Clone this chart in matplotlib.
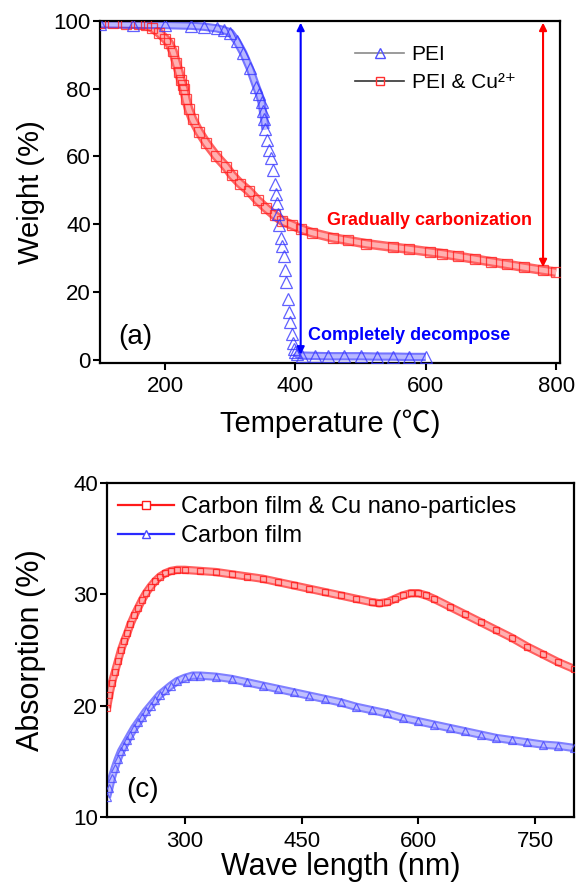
import matplotlib
matplotlib.use("Agg")
import numpy as np
from matplotlib import pyplot as plt
from matplotlib.lines import Line2D

plt.rcParams['font.family'] = ['Liberation Sans', 'Noto Sans CJK SC', 'DejaVu Sans']

# (a) TGA data
pei_t = [100, 150, 200, 240, 260, 280, 290, 300, 310, 320, 330, 340, 344, 348, 350, 352, 354, 357,
         360, 363, 365, 368, 370, 372, 373, 375, 378, 380, 382, 384, 386, 388, 390, 392, 394, 396,
         398, 400, 403, 410, 430, 450, 475, 500, 525, 550, 575, 600]
pei_w = [99.0, 98.9, 98.8, 98.6, 98.3, 97.8, 97.3, 96.6, 94.0, 90.5, 86.0, 80.5, 78.5, 76.0, 73.5, 71.0, 68.0, 65.0,
         62.0, 59.4, 56.0, 52.0, 49.0, 46.2, 43.0, 39.8, 36.0, 33.5, 30.5, 26.6, 22.8, 18.0, 14.0, 11.0, 7.6, 5.0,
         3.2, 2.2, 1.6, 1.2, 1.1, 1.0, 1.0, 1.0, 0.9, 0.9, 0.8, 0.8]

cu_t = [100, 120, 140, 160, 170, 180, 190, 200, 206, 212, 217, 221, 224, 227, 229, 232, 236,
        242, 252, 263, 278, 293, 303, 315, 329, 342, 355, 368, 380, 395, 408, 425, 457, 480,
        509, 550, 575, 606, 625, 650, 675, 700, 725, 750, 780, 800]
cu_w = [99.3, 99.3, 99.2, 99.0, 98.8, 98.0, 96.6, 94.8, 93.5, 91.0, 87.7, 85.0, 82.7, 81.0, 79.8, 76.9, 74.0,
        71.0, 67.3, 64.0, 60.2, 57.0, 54.4, 52.0, 49.7, 47.0, 44.7, 42.6, 40.9, 39.7, 38.6, 37.5, 36.0, 35.2,
        34.2, 33.2, 32.6, 31.8, 31.3, 30.5, 29.7, 28.9, 28.1, 27.3, 26.4, 25.8]

# (c) absorption data
wl_red = [200, 203, 206, 210, 214, 218, 222, 226, 230, 235, 240, 245, 250, 256, 262, 268, 275, 282,
          290, 300, 320, 340, 360, 380, 400, 420, 440, 460, 480, 500, 520, 540, 550, 560, 570, 580,
          590, 600, 610, 620, 640, 660, 680, 700, 720, 740, 760, 780, 800]
abs_red = [19.8, 21.0, 22.0, 23.0, 24.0, 25.0, 25.8, 26.5, 27.3, 28.1, 28.8, 29.5, 30.1, 30.7, 31.2, 31.6, 31.9, 32.1,
           32.2, 32.2, 32.1, 32.0, 31.8, 31.6, 31.4, 31.1, 30.8, 30.5, 30.2, 29.9, 29.6, 29.3, 29.2, 29.3, 29.6, 29.9,
           30.1, 30.1, 29.9, 29.6, 28.9, 28.2, 27.5, 26.8, 26.1, 25.3, 24.6, 23.9, 23.3]

wl_blue = [200, 203, 206, 210, 214, 218, 222, 226, 230, 235, 240, 245, 250, 256, 262, 268, 275, 282,
           290, 300, 310, 320, 340, 360, 380, 400, 420, 440, 460, 480, 500, 520, 540, 560, 580, 600,
           620, 640, 660, 680, 700, 720, 740, 760, 780, 800]
abs_blue = [11.8, 12.6, 13.5, 14.4, 15.2, 15.9, 16.4, 16.9, 17.4, 18.0, 18.5, 19.0, 19.5, 20.0, 20.5, 21.0, 21.4, 21.8,
            22.2, 22.5, 22.7, 22.7, 22.6, 22.4, 22.1, 21.8, 21.5, 21.2, 20.9, 20.6, 20.3, 19.9, 19.6, 19.3, 18.9, 18.6,
            18.3, 18.0, 17.7, 17.4, 17.1, 16.9, 16.7, 16.5, 16.4, 16.2]


def band(ax, x, y, color, light, lw):
    # dense symbol band like the Origin plot: outline + pale inside
    ax.plot(x, y, color=color, lw=lw, alpha=0.7, solid_capstyle='butt', zorder=2)
    ax.plot(x, y, color=light, lw=lw * 0.5, solid_capstyle='butt', zorder=2)


def symbols(ax, x, y, color, marker, ms):
    ax.plot(x, y, ls='none', marker=marker, ms=ms, mfc='none', mec=color, mew=0.9, alpha=0.8, zorder=3)


def style_axes(ax):
    for s in ax.spines.values():
        s.set_linewidth(1.6)
    ax.tick_params(top=False, right=False, direction='out', length=5, width=1.5, labelsize=16)
    ax.tick_params(axis='x', pad=4)
    ax.tick_params(axis='y', pad=1.5)


fig = plt.figure(figsize=(5.76, 8.9), dpi=100)

# ---- (a) ----
ax1 = fig.add_axes([0.1736, 0.5921, 0.7986, 0.3843])
band(ax1, cu_t, cu_w, '#ff2020', '#ffb0b0', 7)
symbols(ax1, cu_t, cu_w, '#ff2020', 's', 6.5)
# the steep drop of PEI shows single symbols only
i_top = pei_t.index(354)
i_bot = pei_t.index(400)
band(ax1, pei_t[:i_top + 1], pei_w[:i_top + 1], '#3a3aff', '#b8b8ff', 6)
band(ax1, pei_t[i_bot:], pei_w[i_bot:], '#3a3aff', '#b8b8ff', 6)
symbols(ax1, pei_t, pei_w, '#3a3aff', '^', 8)
ax1.set_xlim(100, 806)
ax1.set_ylim(-1, 100)
ax1.set_xticks([200, 400, 600, 800])
ax1.set_yticks([0, 20, 40, 60, 80, 100])
style_axes(ax1)
ax1.set_xlabel('Temperature (℃)', fontsize=21)
ax1.set_ylabel('Weight (%)', fontsize=21)
ax1.xaxis.set_label_coords(0.5, -0.135)
ax1.yaxis.set_label_coords(-0.12, 0.5)

ax1.annotate('', xy=(408, 1.5), xytext=(408, 99.5),
             arrowprops=dict(arrowstyle='<|-|>', color='#0000ff', lw=1.5, mutation_scale=11,
                             shrinkA=0, shrinkB=0))
ax1.annotate('', xy=(780, 27.3), xytext=(780, 99.5),
             arrowprops=dict(arrowstyle='<|-|>', color='#ff0000', lw=1.5, mutation_scale=11,
                             shrinkA=0, shrinkB=0))
ax1.text(606, 41.2, 'Gradually carbonization', color='#ff0000', fontsize=13, fontweight='bold',
         ha='center', va='center')
ax1.text(575, 7.0, 'Completely decompose', color='#0000ff', fontsize=13, fontweight='bold',
         ha='center', va='center')
ax1.text(154, 6.7, '(a)', fontsize=20, ha='center', va='center')

h1 = [Line2D([], [], color='#8a8a8a', lw=1.2, marker='^', ms=7, mfc='none', mec='#5050ff'),
      Line2D([], [], color='#333333', lw=1.2, marker='s', ms=6, mfc='none', mec='#ff3030')]
ax1.legend(h1, ['PEI', 'PEI & Cu²⁺'], loc='upper left', bbox_to_anchor=(0.555, 0.93),
           frameon=False, fontsize=15, handlelength=2.35, handletextpad=0.35, labelspacing=0.45,
           borderpad=0, borderaxespad=0)

# ---- (c) ----
ax2 = fig.add_axes([0.1858, 0.0820, 0.8108, 0.3753])
band(ax2, wl_red, abs_red, '#ff1a1a', '#ffb0b0', 6)
symbols(ax2, wl_red, abs_red, '#ff1a1a', 's', 5)
band(ax2, wl_blue, abs_blue, '#4a4aff', '#c0c0ff', 6)
symbols(ax2, wl_blue, abs_blue, '#4a4aff', '^', 5.5)
ax2.set_xlim(200, 800)
ax2.set_ylim(10, 40)
ax2.set_xticks([300, 450, 600, 750])
ax2.set_yticks([10, 20, 30, 40])
style_axes(ax2)
ax2.tick_params(axis='x', pad=5)
ax2.set_xlabel('Wave length (nm)', fontsize=22)
ax2.set_ylabel('Absorption (%)', fontsize=22)
ax2.xaxis.set_label_coords(0.5, -0.105)
ax2.yaxis.set_label_coords(-0.13, 0.5)
ax2.text(246, 12.4, '(c)', fontsize=20, ha='center', va='center')

h2 = [Line2D([], [], color='#ff1a1a', lw=1.6, marker='s', ms=5.5, mfc='white', mec='#ff1a1a'),
      Line2D([], [], color='#2a2aff', lw=1.6, marker='^', ms=6, mfc='white', mec='#4a4aff')]
ax2.legend(h2, ['Carbon film & Cu nano-particles', 'Carbon film'], loc='upper left',
           bbox_to_anchor=(0.024, 0.96), frameon=False, fontsize=17, handlelength=2.35,
           handletextpad=0.3, labelspacing=0.3, borderpad=0, borderaxespad=0)

fig.savefig('out.png', dpi=100)
